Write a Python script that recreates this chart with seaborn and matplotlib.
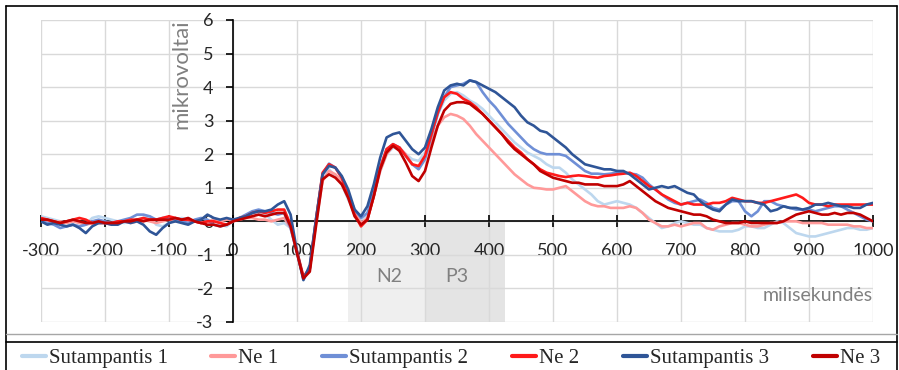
import numpy as np
import pandas as pd
import seaborn as sns
import matplotlib.pyplot as plt
from matplotlib.lines import Line2D

# sampling times (ms) and the six averaged ERP curves (microvolts)
time_ms = np.arange(-300, 1001, 10)

sutampantis_1 = [
    0.15, 0.1, 0.05, 0.0, -0.05, -0.1, -0.15, -0.1, 0.1, 0.15,
    0.1, 0.05, 0.0, -0.05, 0.0, 0.05, 0.1, 0.15, -0.1, -0.15,
    -0.05, 0.05, 0.1, 0.05, 0.0, -0.05, 0.0, 0.05, -0.1, -0.15,
    0.0, 0.1, 0.15, 0.2, 0.25, 0.2, 0.05, -0.1, -0.05, -0.2,
    -0.9, -1.75, -1.4, 0.0, 1.3, 1.55, 1.35, 1.1, 0.65, 0.25,
    0.05, 0.2, 0.8, 1.5, 2.0, 2.2, 2.15, 2.0, 1.85, 1.8,
    2.05, 2.6, 3.2, 3.6, 3.8, 3.85, 3.75, 3.6, 3.5, 3.35,
    3.15, 2.95, 2.75, 2.55, 2.35, 2.2, 2.05, 1.95, 1.85, 1.7,
    1.6, 1.6, 1.45, 1.25, 1.1, 0.95, 0.8, 0.6, 0.5, 0.55,
    0.6, 0.55, 0.5, 0.4, 0.25, 0.1, -0.05, -0.2, -0.15, -0.05,
    0.0, -0.05, -0.1, -0.1, -0.2, -0.25, -0.3, -0.3, -0.3, -0.25,
    -0.15, -0.15, -0.2, -0.2, -0.1, 0.0, -0.05, -0.2, -0.35, -0.4,
    -0.45, -0.45, -0.4, -0.35, -0.3, -0.25, -0.2, -0.2, -0.25, -0.25,
    -0.2,
]
ne_1 = [
    0.05, 0.0, -0.05, 0.0, -0.05, 0.0, -0.05, -0.1, -0.05, 0.0,
    -0.05, -0.1, -0.05, 0.0, -0.05, 0.0, 0.05, 0.0, -0.05, 0.0,
    0.05, 0.0, 0.05, 0.0, 0.0, -0.05, 0.0, 0.05, 0.0, 0.05,
    0.05, 0.05, 0.1, 0.1, 0.05, 0.05, 0.0, 0.05, 0.1, -0.2,
    -0.9, -1.65, -1.4, 0.0, 1.2, 1.5, 1.4, 1.2, 0.75, 0.3,
    -0.05, 0.1, 0.75, 1.5, 2.0, 2.25, 2.2, 2.0, 1.7, 1.6,
    1.9, 2.4, 2.85, 3.1, 3.2, 3.15, 3.05, 2.85, 2.6, 2.4,
    2.2, 2.0, 1.8, 1.6, 1.4, 1.25, 1.1, 1.0, 0.98, 0.95,
    0.95, 1.0, 1.05, 0.9, 0.75, 0.6, 0.5, 0.45, 0.45, 0.4,
    0.4, 0.4, 0.45, 0.4, 0.25, 0.05, -0.05, -0.15, -0.15, -0.1,
    -0.15, -0.1, -0.05, -0.05, -0.2, -0.25, -0.15, -0.1, -0.05, -0.05,
    -0.1, -0.15, -0.15, -0.1, -0.05, -0.05, 0.0, 0.0, 0.0, -0.05,
    -0.05, -0.05, -0.05, -0.1, -0.1, -0.1, -0.1, -0.15, -0.15, -0.2,
    -0.2,
]
sutampantis_2 = [
    0.0, -0.05, -0.1, -0.2, -0.15, -0.1, -0.15, -0.1, 0.0, 0.05,
    0.0, -0.05, 0.0, 0.05, 0.1, 0.2, 0.2, 0.15, 0.05, 0.1,
    0.1, 0.05, 0.0, -0.05, 0.05, 0.1, 0.05, -0.1, -0.15, -0.1,
    0.0, 0.1, 0.2, 0.3, 0.35, 0.3, 0.25, 0.2, 0.25, -0.2,
    -0.95, -1.7, -1.4, 0.1, 1.4, 1.72, 1.6, 1.3, 0.8, 0.35,
    0.1, 0.25, 0.85, 1.6, 2.15, 2.3, 2.2, 1.95, 1.7, 1.55,
    1.85, 2.55, 3.2, 3.7, 4.0, 4.05, 4.1, 4.2, 4.15, 3.85,
    3.6, 3.4, 3.15, 2.9, 2.7, 2.5, 2.3, 2.15, 2.05, 2.0,
    2.0, 2.0, 1.95, 1.8, 1.65, 1.5, 1.42, 1.42, 1.4, 1.42,
    1.45, 1.45, 1.42, 1.4, 1.3, 1.1, 0.95, 0.8, 0.65, 0.55,
    0.5, 0.55, 0.6, 0.65, 0.55, 0.4, 0.35, 0.5, 0.6, 0.6,
    0.3, 0.15, 0.3, 0.6, 0.6, 0.5, 0.45, 0.4, 0.35, 0.35,
    0.35, 0.3, 0.35, 0.4, 0.45, 0.45, 0.35, 0.25, 0.15, 0.05,
    0.0,
]
ne_2 = [
    0.1, 0.05, 0.0, -0.05, 0.0, 0.05, 0.1, 0.05, -0.05, -0.05,
    -0.05, -0.05, 0.0, 0.0, 0.05, 0.05, 0.1, 0.05, 0.05, 0.1,
    0.15, 0.1, 0.05, 0.05, 0.0, -0.05, 0.0, 0.0, -0.05, -0.1,
    0.0, 0.1, 0.15, 0.25, 0.3, 0.25, 0.3, 0.35, 0.35, -0.1,
    -0.9, -1.65, -1.4, 0.1, 1.45, 1.7, 1.6, 1.3, 0.75, 0.2,
    -0.15, 0.05, 0.75, 1.6, 2.15, 2.3, 2.2, 1.95, 1.7, 1.65,
    1.95, 2.6, 3.25, 3.7, 3.85, 3.8, 3.65, 3.55, 3.4, 3.2,
    3.0, 2.8, 2.6, 2.4, 2.2, 2.05, 1.85, 1.7, 1.55, 1.45,
    1.4, 1.35, 1.32, 1.35, 1.37, 1.35, 1.32, 1.3, 1.35, 1.37,
    1.4, 1.42, 1.45, 1.35, 1.2, 1.05, 0.95, 0.8, 0.7, 0.6,
    0.5, 0.55, 0.5, 0.5, 0.5, 0.55, 0.55, 0.6, 0.7, 0.65,
    0.6, 0.6, 0.55, 0.55, 0.6, 0.65, 0.7, 0.75, 0.8, 0.7,
    0.55, 0.5, 0.5, 0.45, 0.5, 0.5, 0.5, 0.5, 0.5, 0.5,
    0.5,
]
sutampantis_3 = [
    0.0, -0.1, -0.05, -0.1, -0.15, -0.1, -0.2, -0.35, -0.15, -0.05,
    -0.05, -0.1, -0.1, 0.0, -0.05, 0.0, -0.1, -0.3, -0.4, -0.2,
    -0.05, 0.0, -0.05, -0.1, 0.0, 0.05, 0.2, 0.1, 0.05, 0.1,
    0.05, 0.1, 0.15, 0.25, 0.3, 0.3, 0.35, 0.5, 0.6, 0.2,
    -0.9, -1.75, -1.3, 0.1, 1.4, 1.65, 1.6, 1.35, 0.95, 0.35,
    0.15, 0.45, 1.1, 1.9, 2.5, 2.6, 2.65, 2.4, 2.15, 2.0,
    2.2, 2.75, 3.4, 3.9, 4.05, 4.1, 4.05, 4.2, 4.15, 4.05,
    3.95, 3.85, 3.7, 3.55, 3.4, 3.15, 2.95, 2.85, 2.7, 2.65,
    2.5, 2.35, 2.2, 2.0, 1.85, 1.7, 1.65, 1.6, 1.55, 1.55,
    1.5, 1.5, 1.4, 1.25, 1.1, 0.95, 1.0, 1.05, 1.0, 1.05,
    0.95, 0.85, 0.8, 0.6, 0.45, 0.35, 0.3, 0.5, 0.65, 0.6,
    0.6, 0.6, 0.55, 0.5, 0.3, 0.35, 0.45, 0.4, 0.4, 0.35,
    0.4, 0.5, 0.5, 0.55, 0.5, 0.45, 0.45, 0.4, 0.4, 0.5,
    0.55,
]
ne_3 = [
    0.05, 0.05, 0.0, -0.05, 0.0, 0.05, 0.0, -0.05, -0.05, 0.0,
    -0.05, -0.05, -0.05, 0.0, 0.0, 0.05, 0.0, 0.05, 0.05, 0.05,
    0.05, 0.1, 0.05, 0.1, 0.0, -0.05, -0.1, -0.1, -0.15, -0.1,
    0.0, 0.05, 0.1, 0.15, 0.2, 0.15, 0.2, 0.25, 0.25, -0.15,
    -0.95, -1.7, -1.5, -0.1, 1.25, 1.4, 1.3, 1.1, 0.7, 0.15,
    -0.1, 0.05, 0.75, 1.55, 2.05, 2.25, 2.1, 1.75, 1.35, 1.2,
    1.5, 2.2, 2.85, 3.3, 3.5, 3.55, 3.55, 3.5, 3.35, 3.2,
    3.0, 2.8, 2.6, 2.35, 2.15, 2.0, 1.85, 1.7, 1.5, 1.4,
    1.3, 1.25, 1.2, 1.15, 1.15, 1.1, 1.1, 1.1, 1.05, 1.05,
    1.05, 1.1, 1.2, 1.05, 0.9, 0.75, 0.6, 0.5, 0.4, 0.35,
    0.3, 0.25, 0.2, 0.2, 0.15, 0.05, 0.0, -0.05, -0.05, -0.05,
    0.0, -0.05, -0.05, -0.05, -0.05, -0.05, 0.0, 0.1, 0.2, 0.25,
    0.3, 0.25, 0.2, 0.2, 0.25, 0.2, 0.25, 0.25, 0.2, 0.1,
    0.0,
]

series_names = ["Sutampantis 1", "Ne 1", "Sutampantis 2", "Ne 2", "Sutampantis 3", "Ne 3"]
series_values = [sutampantis_1, ne_1, sutampantis_2, ne_2, sutampantis_3, ne_3]
series_colors = ["#bdd7ee", "#ff9999", "#6f8fd6", "#ff1a1a", "#2f5597", "#c00000"]

# analysis windows: (label, start ms, end ms, label x)
windows = [("N2", 180, 300, 244), ("P3", 300, 425, 350)]

df = pd.concat(
    [pd.DataFrame({"ms": time_ms, "uV": v, "serija": n}) for n, v in zip(series_names, series_values)],
    ignore_index=True,
)

sns.set_style("white")
plt.rcParams["font.family"] = ["Lato", "DejaVu Sans"]
plt.rcParams["axes.unicode_minus"] = False

W, H = 899, 370
fig = plt.figure(figsize=(W / 100, H / 100), dpi=100)
ax = fig.add_axes([41 / W, 1 - 322 / H, 832 / W, 302 / H])

# shaded N2 / P3 windows below the zero line
shade = {"N2": "#efefef", "P3": "#e4e4e4"}
for lab, a, b, lx in windows:
    ax.fill_between([a, b], -3, 0, color=shade[lab], lw=0, zorder=0)
    ax.text(lx, -1.65, lab, color="#808080", fontsize=14, ha="center", va="center")

sns.lineplot(data=df, x="ms", y="uV", hue="serija", hue_order=series_names,
             palette=dict(zip(series_names, series_colors)), lw=1.9, ax=ax, legend=True)
ax.get_legend().remove()

ax.set_xlim(-300, 1000)
ax.set_ylim(-3, 6)
ax.set_xticks(range(-300, 1001, 100))
ax.set_yticks(range(-3, 7))
ax.set_axisbelow(True)
ax.grid(True, color="#d9d9d9", lw=1.0)
ax.set_xlabel("")
ax.set_ylabel("")

for s in ["top", "right"]:
    ax.spines[s].set_visible(False)
ax.spines["left"].set_position(("data", 0))
ax.spines["bottom"].set_position(("data", 0))
for s in ["left", "bottom"]:
    ax.spines[s].set_color("black")
    ax.spines[s].set_linewidth(1.2)
    ax.spines[s].set_zorder(1)
ax.tick_params(axis="x", direction="inout", length=9, width=1.2, color="black",
               labelsize=13, pad=11, bottom=True)
ax.tick_params(axis="y", direction="out", length=5, width=1.2, color="black",
               labelsize=13, pad=9, left=True)

ax.text(-80, 4.4, "mikrovoltai", rotation=90, color="#808080", fontsize=16,
        ha="center", va="center")
ax.text(1000, -2.2, "milisekundės", color="#808080", fontsize=14, ha="right", va="center")

# outer frame lines of the original figure
def fline(x0, y0, x1, y1, color="black", lw=1.2):
    fig.add_artist(Line2D([x0 / W, x1 / W], [1 - y0 / H, 1 - y1 / H], color=color, lw=lw))

fline(6, 6, 897, 6)
fline(6, 6, 6, 370)
fline(897, 6, 897, 370)
fline(6, 334, 897, 334, color="#a6a6a6", lw=1.0)
fline(6, 342, 897, 342)

leg_handles = [Line2D([], [], color=c, lw=3) for c in series_colors]
fig.legend(leg_handles, series_names, loc="center", bbox_to_anchor=(451 / W, 1 - 358 / H),
           ncol=6, frameon=False, prop={"family": "Liberation Serif", "size": 15},
           handlelength=1.15, handletextpad=0.15, columnspacing=2.1, borderpad=0)

fig.savefig("out.png", dpi=100)
